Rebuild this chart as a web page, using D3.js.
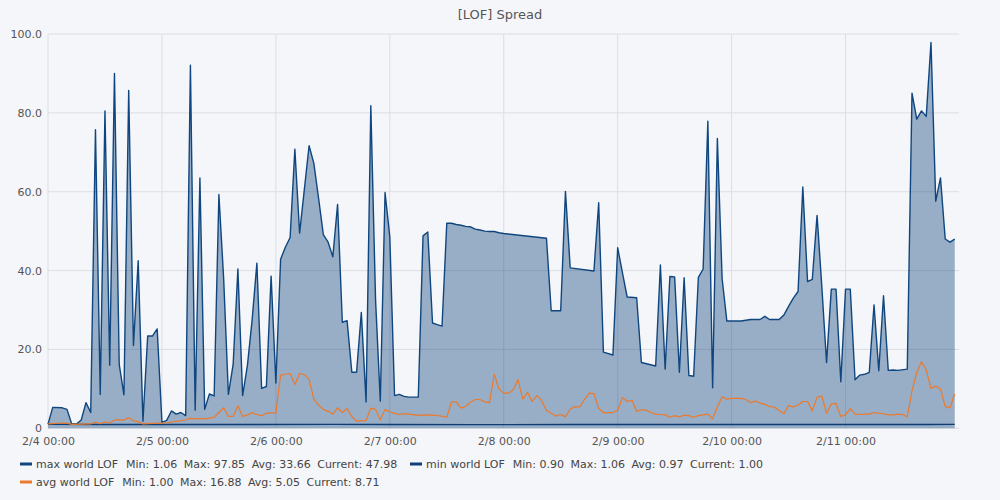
<!DOCTYPE html>
<html>
<head>
<meta charset="utf-8">
<script src="https://cdn.jsdelivr.net/npm/d3@7"></script>
<style>
  body { margin: 0; background: #f5f6f9; }
  text { font-family: "DejaVu Sans", sans-serif; }
</style>
</head>
<body>
<div id="chart"></div>
<script>
// hours after 2/4 00:00 and the values read at each vertex
var max_hours   = [0, 1, 3, 4, 5, 6, 7, 8, 9, 10, 11, 12, 13, 14, 15, 16, 17, 18, 19, 20, 21, 22, 23, 24, 25, 26, 27, 28, 29, 30,
  31, 32, 33, 34, 35, 36, 37, 38, 39, 40, 41, 42, 43, 44, 45, 46, 47, 48, 49, 50, 51, 52, 53, 54, 55, 56, 57, 58, 59, 60,
  61, 62, 63, 64, 65, 66, 67, 68, 69, 70, 71, 72, 73, 74, 75, 76, 78, 79, 80, 81, 82, 83, 84, 85, 86, 87, 88, 89, 90,
  91, 92, 93, 94, 95, 96, 105, 106, 108, 109, 110, 115, 116, 117, 119, 120, 121, 122, 124, 125, 128, 129, 130,
  131, 132, 133, 134, 135, 136, 137, 138, 139, 140, 141, 142, 143, 146, 148, 150, 151, 152, 154, 155, 156, 157, 158, 159, 160,
  161, 162, 163, 164, 165, 166, 167, 168, 169, 170, 171, 172, 173, 174, 175, 176, 177, 178, 179, 181, 182, 183, 184, 185,
  186, 187, 188, 189, 190, 191];
var max_values  = [1.06, 5.3, 5.2, 4.8, 1.1, 1.1, 2.1, 6.5, 4.0, 75.7, 8.6, 80.5, 16.0, 90.0, 16.2, 8.5, 85.7, 21.0, 42.5, 1.8, 23.4, 23.4, 25.2, 1.5, 2.0, 4.4, 3.6, 4.0, 3.2, 92.1,
  4.6, 63.5, 4.8, 8.7, 8.2, 59.3, 38.0, 8.6, 16.2, 40.4, 8.3, 15.9, 27.5, 41.9, 10.1, 10.6, 38.6, 11.5, 42.9, 45.9, 48.4, 70.8, 49.5, 60.6, 71.7, 67.2, 58.3, 49.1, 47.2, 43.5,
  56.8, 26.9, 27.3, 14.2, 14.2, 29.4, 6.7, 81.8, 32.5, 6.9, 59.8, 48.6, 8.3, 8.6, 8.1, 7.9, 7.9, 48.8, 49.8, 26.7, 26.3, 25.9, 52.0, 52.0, 51.7, 51.5, 51.2, 51.1, 50.5,
  50.3, 50.0, 49.9, 49.9, 49.6, 49.4, 48.2, 29.8, 29.8, 60.1, 40.7, 39.9, 57.2, 19.3, 18.6, 45.8, 39.5, 33.3, 33.1, 16.7, 15.8, 41.4, 15.0,
  38.5, 38.4, 14.2, 38.2, 13.4, 13.2, 38.3, 40.4, 77.9, 10.3, 73.5, 38.0, 27.2, 27.2, 27.6, 27.6, 28.4, 27.6, 27.6, 28.7, 30.9, 33.0, 34.7, 61.2, 37.2,
  37.8, 54.0, 36.0, 16.7, 35.3, 35.3, 11.8, 35.3, 35.3, 12.3, 13.5, 13.7, 14.2, 31.3, 14.6, 33.6, 14.7, 14.8, 14.7, 15.0, 85.0, 78.4, 80.5, 79.1,
  97.85, 57.6, 63.5, 48.0, 47.2, 47.98];

var min_hours   = [0, 12, 24, 40, 60, 72, 90, 110, 130, 150, 170, 185, 191];
var min_values  = [1.02, 0.98, 0.95, 0.97, 1.0, 0.95, 0.93, 0.96, 0.98, 0.96, 0.95, 0.97, 1.0];

var avg_hours   = [0, 3, 4, 5, 9, 10, 11, 12, 13, 14, 15, 16, 17, 18, 19, 20, 21, 23, 24, 25, 26, 28, 29, 30, 31, 32, 33, 34, 35,
  36, 37, 38, 39, 40, 41, 42, 43, 44, 45, 46, 47, 48, 49, 50, 51, 52, 53, 54, 55, 56, 57, 58, 59, 60, 61, 62, 63, 64, 65, 67,
  68, 69, 70, 71, 72, 73, 74, 75, 76, 78, 80, 82, 84, 85, 86, 87, 88, 89, 90, 91, 92, 93, 94, 95, 96, 97, 98, 99, 100,
  101, 102, 103, 104, 105, 106, 107, 108, 109, 110, 111, 112, 113, 114, 115, 116, 117, 118, 119, 120, 121, 122, 123, 124,
  125, 126, 127, 128, 129, 130, 131, 132, 133, 134, 135, 136, 137, 138, 139, 140, 141, 142, 143, 144, 145, 146, 147, 148,
  149, 150, 151, 152, 153, 154, 155, 156, 157, 158, 159, 160, 161, 162, 163, 164, 165, 166, 167, 168, 169, 170, 171, 172,
  173, 174, 175, 176, 177, 178, 179, 180, 181, 182, 183, 184, 185, 186, 187, 188, 189, 190, 191];
var avg_values  = [1.1, 1.35, 1.3, 1.0, 1.1, 1.6, 1.2, 1.6, 1.35, 2.1, 2.2, 2.1, 2.7, 1.9, 1.7, 1.1, 1.2, 1.3, 1.3, 1.35, 1.6, 1.9, 2.1, 2.5, 2.4, 2.5, 2.4, 2.6, 2.8,
  4.0, 5.2, 3.0, 3.0, 5.7, 3.0, 3.4, 3.9, 3.5, 3.2, 3.8, 3.9, 3.9, 13.5, 13.7, 13.9, 11.1, 13.9, 13.6, 12.4, 7.4, 5.9, 4.8, 4.3, 3.6, 5.2, 4.0, 5.0, 3.0, 1.8, 2.0,
  5.1, 4.8, 2.1, 4.8, 4.2, 3.8, 3.5, 3.7, 3.6, 3.3, 3.4, 3.3, 2.8, 6.7, 6.7, 5.1, 5.6, 6.6, 7.3, 7.3, 6.7, 6.5, 13.7, 10.0, 8.9, 8.9, 9.7, 12.4, 7.4,
  9.1, 6.8, 8.3, 7.0, 4.5, 3.8, 3.1, 3.5, 2.9, 4.9, 5.5, 5.4, 7.3, 8.9, 8.8, 5.0, 4.0, 4.0, 4.0, 4.5, 7.8, 6.8, 7.1, 4.3,
  4.7, 4.6, 4.0, 3.6, 3.5, 3.4, 2.8, 3.2, 2.9, 3.3, 3.2, 2.8, 3.2, 3.4, 3.6, 2.4, 5.4, 8.0, 7.4, 7.6, 7.6, 7.6, 7.3, 6.5,
  6.9, 6.4, 6.1, 5.5, 5.4, 4.5, 3.7, 5.8, 5.4, 5.9, 6.8, 6.8, 4.4, 7.9, 8.2, 3.8, 6.2, 6.3, 3.0, 3.5, 5.0, 3.6, 3.5, 3.6,
  3.6, 4.0, 3.8, 3.7, 3.4, 3.4, 3.6, 3.5, 2.9, 9.5, 14.1, 16.88, 14.8, 10.1, 10.7, 9.9, 5.5, 5.2, 8.71];

var y_ticks     = [0, 20, 40, 60, 80, 100];
var legend_rows = [
  [["max world LOF", "Min: 1.06", "Max: 97.85", "Avg: 33.66", "Current: 47.98"],
   ["min world LOF", "Min: 0.90", "Max: 1.06", "Avg: 0.97", "Current: 1.00"]],
  [["avg world LOF", "Min: 1.00", "Max: 16.88", "Avg: 5.05", "Current: 8.71"]]
];

// --------------------------------------------------------------------------------
const chart_width = 1000, chart_height = 500;
const plot_left = 48, plot_right = 959, plot_top = 34, plot_bottom = 428.3;
const start = Date.UTC(2024, 1, 4, 0, 0);
const to_date = (h) => new Date(start + h * 3600 * 1000);

var svg = d3.select("#chart")
  .append("svg")
  .attr("width", chart_width)
  .attr("height", chart_height);

svg.append("rect")
  .attr("width", chart_width)
  .attr("height", chart_height)
  .attr("fill", "#f5f6f9");

// ---------------------------------------------------------------------------------
// Scales
const x_scale = d3.scaleUtc()
  .domain([to_date(0), to_date(191.9)])
  .range([plot_left, plot_right]);

const y_scale = d3.scaleLinear()
  .domain([0, 100])
  .range([plot_bottom, plot_top]);

// grid
svg.append("g")
  .selectAll("line")
  .data(y_ticks)
  .enter()
  .append("line")
  .attr("x1", plot_left)
  .attr("x2", plot_right)
  .attr("y1", d => y_scale(d))
  .attr("y2", d => y_scale(d))
  .attr("stroke", "#dcdee3")
  .attr("stroke-width", 1);

var day_ticks = d3.utcDay.range(to_date(0), to_date(192));
svg.append("g")
  .selectAll("line")
  .data(day_ticks)
  .enter()
  .append("line")
  .attr("x1", d => x_scale(d))
  .attr("x2", d => x_scale(d))
  .attr("y1", plot_top)
  .attr("y2", plot_bottom)
  .attr("stroke", "#dcdee3")
  .attr("stroke-width", 1);

// axes (labels only)
var y_axis = svg.append("g")
  .attr("transform", "translate(" + (plot_left - 6) + ",0)")
  .call(d3.axisLeft(y_scale).tickValues(y_ticks).tickSize(0)
    .tickFormat(d => d === 0 ? "0" : d3.format(".1f")(d)));
y_axis.select(".domain").remove();
y_axis.selectAll("text")
  .attr("x", 0)
  .attr("font-size", 11)
  .attr("font-family", "DejaVu Sans")
  .attr("fill", "#555");

var x_axis = svg.append("g")
  .attr("transform", "translate(0," + (plot_bottom + 8.5) + ")")
  .call(d3.axisBottom(x_scale).tickValues(day_ticks).tickSize(0)
    .tickFormat(d3.utcFormat("%-m/%-d %H:%M")));
x_axis.select(".domain").remove();
x_axis.selectAll("text")
  .attr("y", 0)
  .attr("dy", "0.71em")
  .attr("font-size", 11)
  .attr("font-family", "DejaVu Sans")
  .attr("fill", "#555");

// ---------------------------------------------------------------------------------
// series
const blue = "#10467f", orange = "#eb7a2e";

var max_data = max_hours.map((h, i) => ({ t: to_date(h), v: max_values[i] }));
var min_data = min_hours.map((h, i) => ({ t: to_date(h), v: min_values[i] }));
var avg_data = avg_hours.map((h, i) => ({ t: to_date(h), v: avg_values[i] }));

var area = d3.area()
  .x(d => x_scale(d.t))
  .y0(y_scale(0))
  .y1(d => y_scale(d.v));

var line = d3.line()
  .x(d => x_scale(d.t))
  .y(d => y_scale(d.v));

svg.append("path")
  .datum(max_data)
  .attr("d", area)
  .attr("fill", blue)
  .attr("fill-opacity", 0.41);

svg.append("path")
  .datum(max_data)
  .attr("d", line)
  .attr("fill", "none")
  .attr("stroke", blue)
  .attr("stroke-width", 1.4)
  .attr("stroke-linejoin", "round");

svg.append("path")
  .datum(min_data)
  .attr("d", line)
  .attr("fill", "none")
  .attr("stroke", "#0d3f76")
  .attr("stroke-width", 1.4);

svg.append("path")
  .datum(avg_data)
  .attr("d", line)
  .attr("fill", "none")
  .attr("stroke", orange)
  .attr("stroke-width", 1.2)
  .attr("stroke-linejoin", "round");

// title
svg.append("text")
  .attr("x", 500)
  .attr("y", 18.5)
  .attr("text-anchor", "middle")
  .attr("font-size", 13)
  .attr("fill", "#555")
  .text("[LOF] Spread");

// ---------------------------------------------------------------------------------
// legend
const legend_colors = [[blue, "#0d3f76"], [orange]];
const legend_x = [[20, 410], [20]];
const legend_y = [464, 482];

legend_rows.forEach((row, r) => {
  row.forEach((item, k) => {
    var g = svg.append("g");
    var x0 = legend_x[r][k];
    g.append("line")
      .attr("x1", x0).attr("x2", x0 + 12)
      .attr("y1", legend_y[r]).attr("y2", legend_y[r])
      .attr("stroke", legend_colors[r][k])
      .attr("stroke-width", 3);
    var x = x0 + 16;
    item.forEach((s, j) => {
      var t = g.append("text")
        .attr("x", x)
        .attr("y", legend_y[r])
        .attr("dy", "0.35em")
        .attr("font-size", 11)
        .attr("fill", "#444")
        .text(s);
      x += t.node().getComputedTextLength() + (j === 0 ? 8 : 6.5);
    });
  });
});
</script>
</body>
</html>
